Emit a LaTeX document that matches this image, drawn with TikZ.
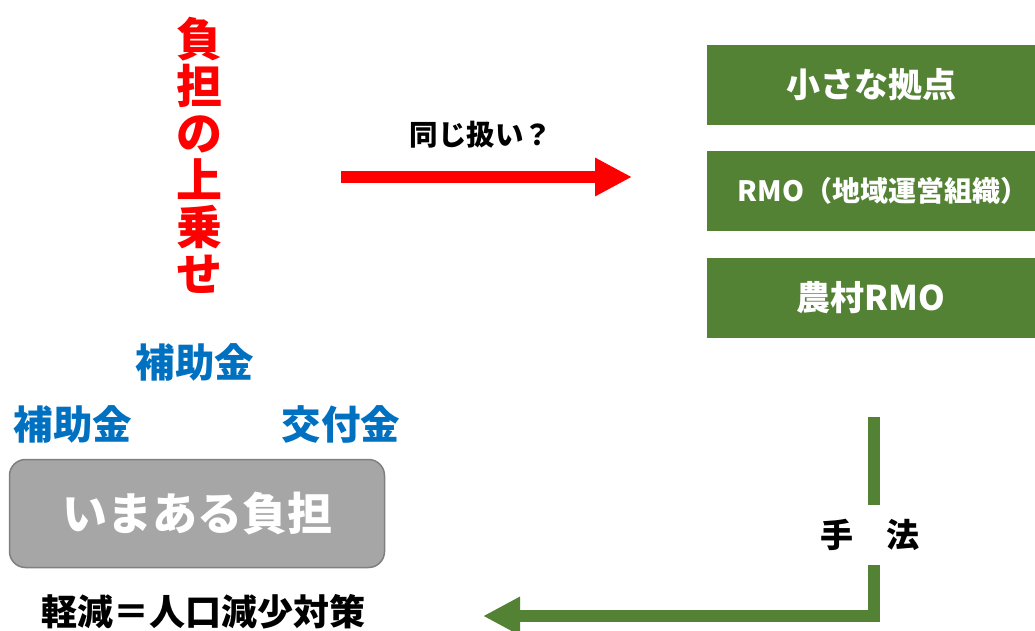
\documentclass[tikz,border=0pt]{standalone}
\usepackage{fontspec}
\setmainfont{Noto Sans CJK JP}
\usetikzlibrary{arrows.meta}
\definecolor{mygreen}{HTML}{548235}
\definecolor{myblue}{HTML}{0070C0}
\definecolor{mygray}{HTML}{A6A6A6}
\definecolor{mygrayline}{HTML}{7F7F7F}
\definecolor{myred}{HTML}{FF0000}
\tikzset{
  greenbox/.style={fill=mygreen, text=white, minimum width=328pt, minimum height=80pt, inner sep=0pt, font=\bfseries\fontsize{34}{36}\selectfont},
  bluelabel/.style={text=myblue, inner sep=0pt, font=\bfseries\fontsize{39.5}{40}\selectfont},
  blacklabel/.style={text=black, inner sep=0pt, font=\bfseries\fontsize{#1}{#1}\selectfont},
  bigarrow/.style={line width=12pt, -{Triangle[length=37pt,width=36pt]}},
}
\begin{document}
\begin{tikzpicture}[x=1pt,y=-1pt]
\useasboundingbox (0,0) rectangle (1035,630);
% vertical red text
\node[text=myred, align=center, inner sep=0pt, font=\bfseries\fontsize{46}{47}\selectfont] (burden) at (199,155) {負\\担\\の\\上\\乗\\せ};
% red arrow
\coordinate (rstart) at (341,177);
\coordinate (rtip) at (632,177);
\draw[bigarrow, draw=myred] (rstart) -- (rtip);
\node[blacklabel=28.5] (same) at (481,135) {同じ扱い？};
% green boxes
\node[greenbox] (hub) at (871,85) {小さな拠点};
\node[greenbox, font=\bfseries\fontsize{28}{30}\selectfont] (rmo) at (871,191) {\hspace*{24pt}RMO（地域運営組織）};
\node[greenbox] (nrmo) at (871,298) {農村RMO};
% blue labels
\node[bluelabel] (sub1) at (195,362) {補助金};
\node[bluelabel] (sub2) at (73,424) {補助金};
\node[bluelabel] (grant) at (341,424) {交付金};
% gray box
\node[draw=mygrayline, fill=mygray, line width=1.5pt, rounded corners=16pt, minimum width=375pt, minimum height=108pt, inner sep=0pt, text=white, font=\bfseries\fontsize{45}{46}\selectfont] (now) at (197,513.5) {いまある負担};
\node[blacklabel=36] (reduce) at (203,612) {軽減＝人口減少対策};
% green connector
\coordinate (gtop) at (874,417);
\coordinate (gtip) at (483,616);
\node[blacklabel=33, minimum height=60pt] (method) at (870,535) {手　法};
\draw[line width=12pt, draw=mygreen] (gtop) -- (gtop |- method.north);
\draw[bigarrow, draw=mygreen] (gtop |- method.south) |- (gtip);
\end{tikzpicture}
\end{document}
